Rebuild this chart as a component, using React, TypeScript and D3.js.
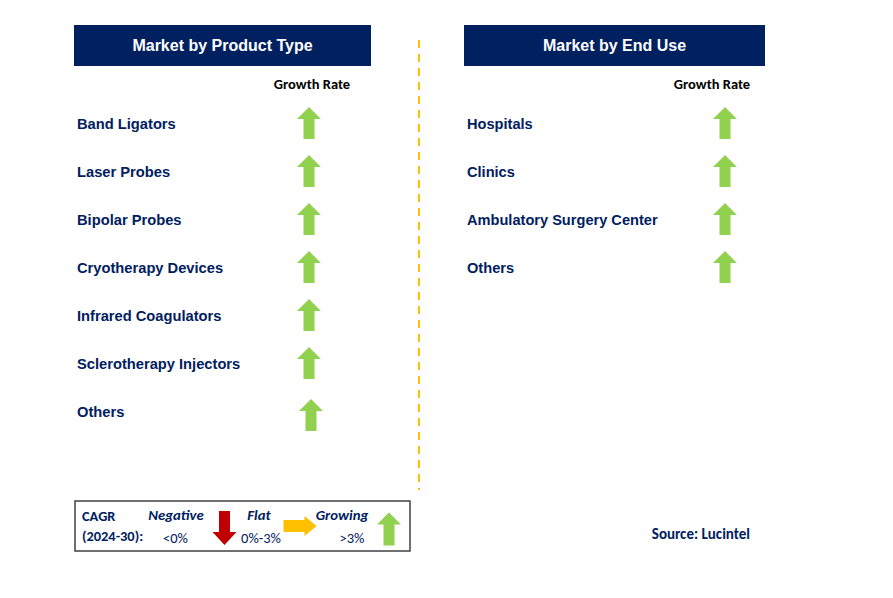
import React from "react";
import * as d3 from "d3";

const productTypes = ["Band Ligators", "Laser Probes", "Bipolar Probes", "Cryotherapy Devices", "Infrared Coagulators", "Sclerotherapy Injectors", "Others"];
const productGrowth = ["up", "up", "up", "up", "up", "up", "up"];
const endUses = ["Hospitals", "Clinics", "Ambulatory Surgery Center", "Others"];
const endUseGrowth = ["up", "up", "up", "up"];
const titles = ["Market by Product Type", "Market by End Use"];

const NAVY = "#002060";
const GREEN = "#92D050";
const RED = "#C00000";
const ORANGE = "#FFC000";

function arrowPath(cx: number, cy: number, dir: string, w = 24, h = 32, headH = 12, shaftW = 11) {
  const p = d3.path();
  const top = cy - h / 2, bot = cy + h / 2;
  p.moveTo(cx, top);
  p.lineTo(cx + w / 2, top + headH);
  p.lineTo(cx + shaftW / 2, top + headH);
  p.lineTo(cx + shaftW / 2, bot);
  p.lineTo(cx - shaftW / 2, bot);
  p.lineTo(cx - shaftW / 2, top + headH);
  p.lineTo(cx - w / 2, top + headH);
  p.closePath();
  let rot = 0;
  if (dir === "down") rot = 180;
  if (dir === "right") rot = 90;
  return { d: p.toString(), transform: `rotate(${rot},${cx},${cy})` };
}

function Arrow({ cx, cy, dir, color, w, h, headH, shaftW }: any) {
  const a = arrowPath(cx, cy, dir, w, h, headH, shaftW);
  return <path d={a.d} transform={a.transform} fill={color} />;
}

const colorFor = (g: string) => (g === "up" ? GREEN : g === "down" ? RED : ORANGE);

export default function App() {
  const rowY = d3.scaleLinear().domain([0, 1]).range([124, 172]);
  const labelFont = "'Liberation Sans', Arial, sans-serif";
  const calibri = "Carlito, 'Open Sans', 'Noto Sans', sans-serif";
  return (
    <svg width={893} height={598} style={{ position: "absolute", left: 0, top: 0, background: "#fff" }}>
      <rect x={0} y={0} width={893} height={598} fill="#fff" />
      <rect x={74} y={25} width={297} height={41} fill={NAVY} />
      <text x={222.5} y={51} textAnchor="middle" fill="#fff" fontFamily={labelFont} fontWeight="bold" fontSize={16}>{titles[0]}</text>
      <rect x={464} y={25} width={301} height={41} fill={NAVY} />
      <text x={614.5} y={51} textAnchor="middle" fill="#fff" fontFamily={labelFont} fontWeight="bold" fontSize={16}>{titles[1]}</text>

      <text x={312} y={89} textAnchor="middle" fill="#000" fontFamily={calibri} fontWeight="bold" fontSize={14.5}>Growth Rate</text>
      <text x={712} y={89} textAnchor="middle" fill="#000" fontFamily={calibri} fontWeight="bold" fontSize={14.5}>Growth Rate</text>

      {productTypes.map((p, i) => (
        <g key={p}>
          <text x={77} y={rowY(i) + 5} fill={NAVY} fontFamily={labelFont} fontWeight="bold" fontSize={14.7}>{p}</text>
          <Arrow cx={i === productTypes.length - 1 ? 311 : 309} cy={rowY(i) - 1 + (i === productTypes.length - 1 ? 4 : 0)} dir={productGrowth[i]} color={colorFor(productGrowth[i])} />
        </g>
      ))}
      {endUses.map((p, i) => (
        <g key={p}>
          <text x={467} y={rowY(i) + 5} fill={NAVY} fontFamily={labelFont} fontWeight="bold" fontSize={14.6}>{p}</text>
          <Arrow cx={725} cy={rowY(i) - 1} dir={endUseGrowth[i]} color={colorFor(endUseGrowth[i])} />
        </g>
      ))}

      <line x1={419} y1={40} x2={419} y2={490} stroke={ORANGE} strokeWidth={2} strokeDasharray="8,6" />

      <rect x={75} y={501} width={335} height={50} fill="#fff" stroke="#404040" strokeWidth={1.5} />
      <text x={82} y={521} fill={NAVY} fontFamily={calibri} fontWeight="bold" fontSize={14.4}>CAGR</text>
      <text x={82} y={541} fill={NAVY} fontFamily={calibri} fontWeight="bold" fontSize={14.4}>(2024-30):</text>
      <text x={176} y={520} textAnchor="middle" fill={NAVY} fontFamily={calibri} fontWeight="bold" fontStyle="italic" fontSize={14.8}>Negative</text>
      <text x={175.5} y={543} textAnchor="middle" fill={NAVY} fontFamily={calibri} fontSize={14.5}>&lt;0%</text>
      <Arrow cx={224.5} cy={528} dir="down" color={RED} w={24} h={34} headH={13} shaftW={11} />
      <text x={259} y={520} textAnchor="middle" fill={NAVY} fontFamily={calibri} fontWeight="bold" fontStyle="italic" fontSize={14.8}>Flat</text>
      <text x={261} y={543} textAnchor="middle" fill={NAVY} fontFamily={calibri} fontSize={14.5}>0%-3%</text>
      <Arrow cx={300} cy={526} dir="right" color={ORANGE} w={20} h={33} headH={12} shaftW={12} />
      <text x={342} y={520} textAnchor="middle" fill={NAVY} fontFamily={calibri} fontWeight="bold" fontStyle="italic" fontSize={14.8}>Growing</text>
      <text x={352} y={543} textAnchor="middle" fill={NAVY} fontFamily={calibri} fontSize={14.5}>&gt;3%</text>
      <Arrow cx={389} cy={529} dir="up" color={GREEN} w={24} h={33} headH={12} shaftW={11} />

      <text x={750} y={539} textAnchor="end" fill={NAVY} fontFamily={calibri} fontWeight="bold" fontSize={15}>Source: Lucintel</text>
    </svg>
  );
}
